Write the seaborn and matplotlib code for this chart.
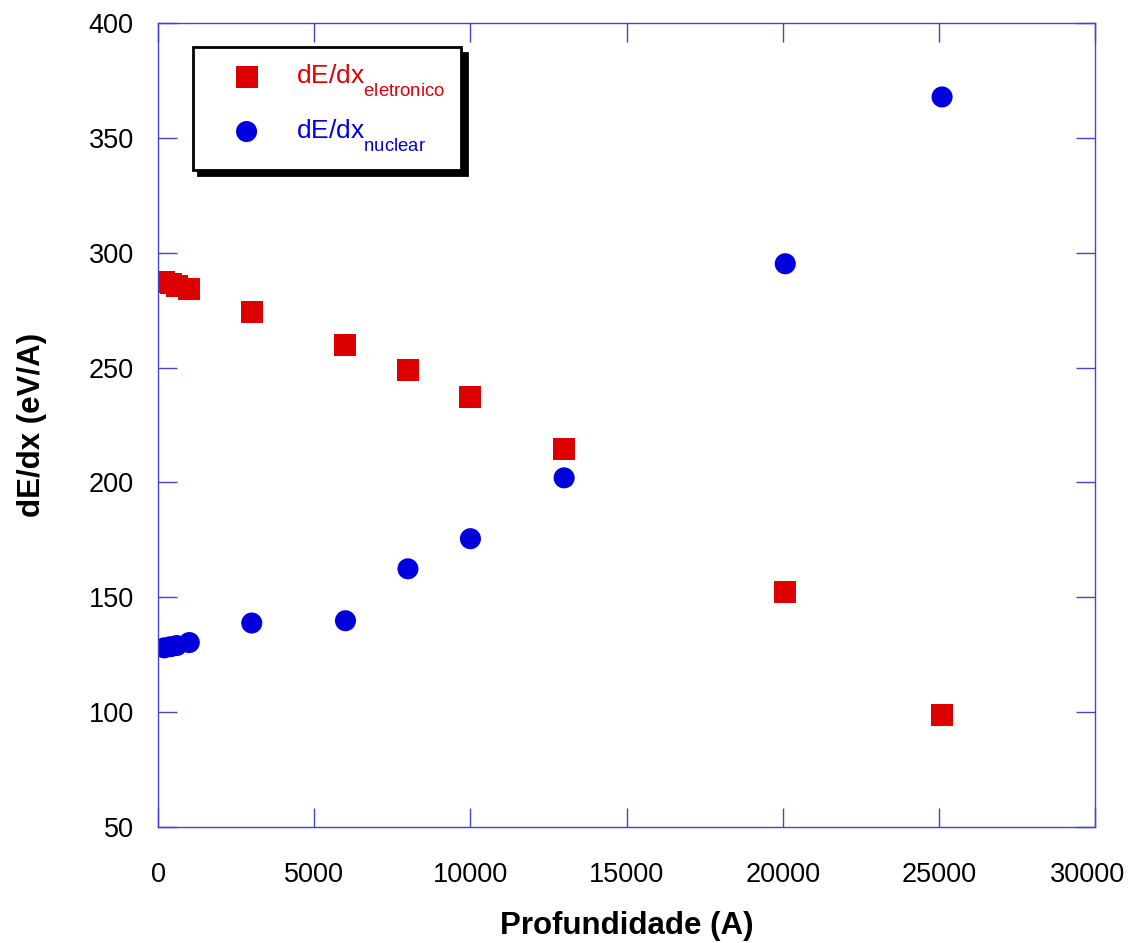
import numpy as np
import pandas as pd
import matplotlib
matplotlib.use("Agg")
import matplotlib.pyplot as plt
import matplotlib.transforms as mtransforms
import matplotlib._mathtext as mathtext_internal
import seaborn as sns

# depth (A)
profundidade = [200, 400, 600, 1000, 3000, 6000, 8000, 10000, 13000, 20080, 25100]
# electronic stopping (eV/A)
dedx_eletronico = [287.3, 286.6, 285.6, 284.0, 274.4, 259.9, 249.0, 237.3, 214.4, 152.4, 98.9]
# nuclear stopping (eV/A)
dedx_nuclear = [128.0, 128.5, 129.0, 130.3, 138.8, 139.8, 162.4, 175.5, 202.0, 295.2, 367.8]

x_ticks = [0, 5000, 10000, 15000, 20000, 25000, 30000]
y_ticks = [50, 100, 150, 200, 250, 300, 350, 400]

RED = "#dd0000"
BLUE = "#0000dd"
AXCOL = "#4444cc"

sns.set_style("ticks")
plt.rcParams["font.family"] = ["Liberation Sans", "DejaVu Sans"]
plt.rcParams["mathtext.fontset"] = "custom"
plt.rcParams["mathtext.rm"] = "Liberation Sans"
plt.rcParams["mathtext.it"] = "Liberation Sans"
plt.rcParams["text.color"] = "black"
plt.rcParams["axes.labelcolor"] = "black"
plt.rcParams["xtick.labelcolor"] = "black"
plt.rcParams["ytick.labelcolor"] = "black"
# subscripts in the legend sit lower than mathtext's default
mathtext_internal.FontConstantsBase.sub1 = 0.95

df = pd.DataFrame({
    "prof": profundidade,
    "ele": dedx_eletronico,
    "nuc": dedx_nuclear,
})

fig = plt.figure(figsize=(11.29, 9.43), dpi=100)
ax = fig.add_axes([0.140, 0.123, 0.830, 0.8526])

sns.scatterplot(data=df, x="prof", y="ele", ax=ax, marker="s", s=250,
                color=RED, edgecolor="none", label=r"dE/dx$_{\mathrm{eletronico}}$")
sns.scatterplot(data=df, x="prof", y="nuc", ax=ax, marker="o", s=230,
                color=BLUE, edgecolor="none", label=r"dE/dx$_{\mathrm{nuclear}}$")

ax.set_xlim(0, 30000)
ax.set_ylim(50, 400)
ax.set_xticks(x_ticks)
ax.set_yticks(y_ticks)
ax.tick_params(direction="in", length=14, width=1, color=AXCOL,
               top=True, right=True, labelsize=19.5)
ax.tick_params(axis="x", pad=25)
ax.tick_params(axis="y", pad=17.5)
for sp in ax.spines.values():
    sp.set_color(AXCOL)
    sp.set_linewidth(1)

# last x label pulled in a little so it stays on the canvas
last = ax.get_xticklabels()[-1]
last.set_transform(last.get_transform() +
                   mtransforms.ScaledTranslation(-8 / 100, 0, fig.dpi_scale_trans))

ax.set_xlabel("Profundidade (A)", fontsize=22.5, fontweight="bold", labelpad=17)
ax.set_ylabel("dE/dx (eV/A)", fontsize=22.5, fontweight="bold", labelpad=30)

leg = ax.legend(loc="upper left", bbox_to_anchor=(0.037, 0.970), fontsize=19,
                frameon=True, fancybox=False, framealpha=1,
                shadow={"color": "black", "ox": 4, "oy": -4, "alpha": 1},
                borderpad=0.6, labelspacing=0.69, handlelength=2.88,
                handletextpad=0.45, borderaxespad=0, markerscale=1.0)
leg.get_frame().set_edgecolor("black")
leg.get_frame().set_linewidth(2)
for t, c in zip(leg.get_texts(), [RED, BLUE]):
    t.set_color(c)

fig.savefig("out.png", dpi=100)
